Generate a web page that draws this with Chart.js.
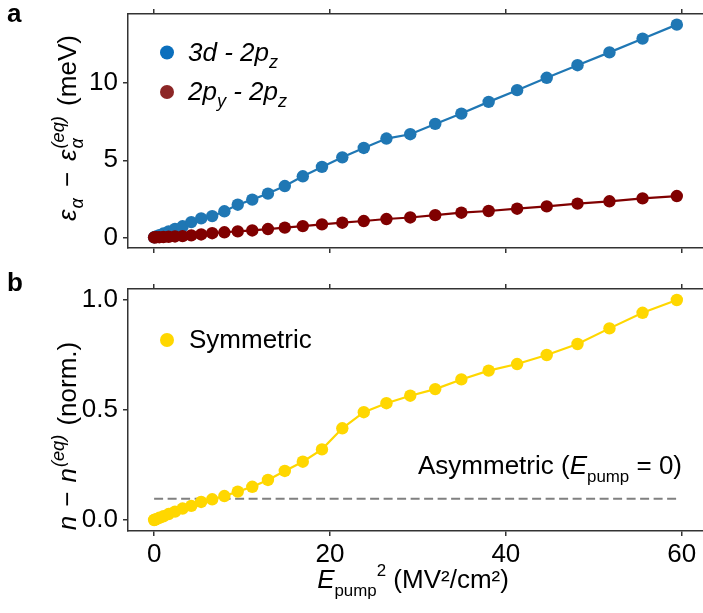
<!DOCTYPE html>
<html>
<head>
<meta charset="utf-8">
<script src="https://cdn.jsdelivr.net/npm/chart.js@4.4.1/dist/chart.umd.min.js"></script>
<style>
    body { margin: 0; background: #fff; }
    #wrap { position: relative; width: 703px; height: 613px; }
    canvas { position: absolute; left: 0; }
</style>
</head>
<body>
<div id="wrap">
    <canvas id="chartA" width="703" height="265" style="top:0px"></canvas>
    <canvas id="chartB" width="703" height="348" style="top:265px"></canvas>
</div>
<script>
// E_pump^2 (MV^2/cm^2), shared by both panels
const ePump2 = [0, 0.066, 0.264, 0.594, 1.057, 1.651, 2.378, 3.236, 4.227, 5.350, 6.605,
    7.992, 9.511, 11.162, 12.946, 14.861, 16.909, 19.088, 21.400, 23.844, 26.420,
    29.128, 31.968, 34.940, 38.044, 41.281, 44.649, 48.150, 51.782, 55.547, 59.444];
// panel a: energy shifts (meV)
const shift3d = [0, 0.02, 0.06, 0.14, 0.25, 0.38, 0.55, 0.72, 0.99, 1.23, 1.38,
    1.69, 2.12, 2.45, 2.84, 3.33, 3.96, 4.57, 5.19, 5.80, 6.41,
    6.69, 7.36, 8.03, 8.79, 9.55, 10.35, 11.17, 12.00, 12.89, 13.80];
const shift2py = [0, 0.00, 0.01, 0.01, 0.02, 0.04, 0.06, 0.08, 0.13, 0.19, 0.27,
    0.33, 0.39, 0.45, 0.54, 0.63, 0.73, 0.84, 0.95, 1.06, 1.19,
    1.29, 1.44, 1.60, 1.71, 1.86, 2.01, 2.19, 2.34, 2.53, 2.68];
// panel b: normalised density change
const symmetric = [0, 0.001, 0.004, 0.010, 0.017, 0.027, 0.038, 0.052, 0.064, 0.082, 0.094,
    0.109, 0.129, 0.151, 0.182, 0.223, 0.265, 0.321, 0.417, 0.490, 0.531,
    0.565, 0.595, 0.639, 0.679, 0.709, 0.750, 0.800, 0.871, 0.942, 1.000];
const asymLevel = 0.097;

const xTicks = [0, 20, 40, 60];
const yTicksA = [0, 5, 10];
const yTicksB = [0, 0.5, 1.0];

const FONT = '"Liberation Sans", Arial, sans-serif';
const FS = 26;
const AXIS_COLOR = '#333';

function points(xs, ys) {
    return xs.map((x, i) => ({ x: x, y: ys[i] }));
}

// draws a run of text pieces (italic, sub, sup...) starting at x, baseline y
// p.gap adds extra space (px) before the piece
function drawRich(ctx, parts, x, y, size, align) {
    let items = [];
    let cx = 0, prevStart = 0;
    parts.forEach(p => {
        const s = size * (p.s || 1);
        const font = (p.b ? 'bold ' : '') + (p.i ? 'italic ' : '') + s + 'px ' + FONT;
        ctx.font = font;
        const w = ctx.measureText(p.t).width;
        let start = p.stack ? prevStart : cx + (p.gap || 0);
        items.push({ t: p.t, font: font, x: start, dy: (p.dy || 0) * size });
        if (p.stack) {
            cx = Math.max(cx, start + w);
        } else {
            prevStart = start;
            cx = start + w;
        }
    });
    let ox = x;
    if (align === 'center') ox = x - cx / 2;
    if (align === 'right') ox = x - cx;
    ctx.save();
    ctx.fillStyle = '#000';
    ctx.textAlign = 'left';
    ctx.textBaseline = 'alphabetic';
    items.forEach(it => {
        ctx.font = it.font;
        ctx.fillText(it.t, ox + it.x, y + it.dy);
    });
    ctx.restore();
}

function dot(ctx, x, y, r, color) {
    ctx.save();
    ctx.fillStyle = color;
    ctx.beginPath();
    ctx.arc(x, y, r, 0, Math.PI * 2);
    ctx.fill();
    ctx.restore();
}

function xScale(position, height, showLabels, min, max) {
    return {
        type: 'linear',
        position: position,
        min: min,
        max: max,
        afterBuildTicks: s => { s.ticks = xTicks.map(v => ({ value: v })); },
        afterFit: s => { s.height = height; s.paddingLeft = 0; s.paddingRight = 0; },
        grid: { drawOnChartArea: false, drawTicks: true, tickLength: 5, color: AXIS_COLOR, lineWidth: 1.5 },
        border: { display: true, color: AXIS_COLOR, width: 1.5 },
        ticks: {
            padding: 3,
            color: '#000',
            font: { family: FONT, size: FS },
            callback: v => showLabels ? String(v) : ''
        }
    };
}

function yScale(min, max, ticks, fmt) {
    return {
        type: 'linear',
        position: 'left',
        min: min,
        max: max,
        afterBuildTicks: s => { s.ticks = ticks.map(v => ({ value: v })); },
        afterFit: s => { s.width = 128; s.paddingTop = 0; s.paddingBottom = 0; },
        grid: { drawOnChartArea: false, drawTicks: true, tickLength: 5, color: AXIS_COLOR, lineWidth: 1.5 },
        border: { display: true, color: AXIS_COLOR, width: 1.5 },
        ticks: {
            padding: 5,
            color: '#000',
            font: { family: FONT, size: FS },
            callback: fmt
        }
    };
}

const xMin = -2.97, xMax = 62.42;

// panel a
const labelsA = {
    id: 'labelsA',
    afterDraw(chart) {
        const ctx = chart.ctx;
        drawRich(ctx, [{ t: 'a', b: true }], 7, 22, FS, 'left');
        // legend
        dot(ctx, 167, 52.5, 7, '#0b6fbd');
        drawRich(ctx, [{ t: '3', i: true }, { t: 'd', i: true }, { t: ' - 2', i: true }, { t: 'p', i: true },
            { t: 'z', i: true, s: 0.7, dy: 0.25 }], 188, 61, FS, 'left');
        dot(ctx, 167, 92, 7, '#8c2626');
        drawRich(ctx, [{ t: '2', i: true }, { t: 'p', i: true }, { t: 'y', i: true, s: 0.7, dy: 0.25 },
            { t: ' - 2', i: true }, { t: 'p', i: true }, { t: 'z', i: true, s: 0.7, dy: 0.25 }], 188, 100, FS, 'left');
        // y title
        ctx.save();
        ctx.translate(76, 128);
        ctx.rotate(-Math.PI / 2);
        drawRich(ctx, [{ t: 'ε', i: true }, { t: 'α', i: true, s: 0.7, dy: 0.25, gap: 1 },
            { t: '−', gap: 11 }, { t: 'ε', i: true, gap: 11 }, { t: 'α', i: true, s: 0.7, dy: 0.25, gap: 1 },
            { t: '(eq)', i: true, s: 0.7, dy: -0.45, stack: true },
            { t: ' (meV)', gap: 3 }], 0, 0, FS, 'center');
        ctx.restore();
    }
};

new Chart(document.getElementById('chartA'), {
    type: 'scatter',
    data: {
        datasets: [
            {
                label: '2py - 2pz',
                data: points(ePump2, shift2py),
                showLine: true,
                borderColor: '#800000',
                backgroundColor: '#800000',
                borderWidth: 2.2,
                pointRadius: 6.2,
                pointBorderWidth: 0,
                order: 0
            },
            {
                label: '3d - 2pz',
                data: points(ePump2, shift3d),
                showLine: true,
                borderColor: '#1f77b4',
                backgroundColor: '#1f77b4',
                borderWidth: 2.2,
                pointRadius: 6.2,
                pointBorderWidth: 0,
                order: 1
            }
        ]
    },
    options: {
        responsive: false,
        animation: false,
        devicePixelRatio: 1,
        layout: { padding: 0, autoPadding: false },
        plugins: { legend: { display: false }, tooltip: { enabled: false } },
        scales: {
            x: xScale('bottom', 17, false, xMin, xMax),
            x2: xScale('top', 14, false, xMin, xMax),
            y: yScale(-0.69, 14.49, yTicksA, v => String(v))
        }
    },
    plugins: [labelsA]
});

// panel b
const labelsB = {
    id: 'labelsB',
    afterDraw(chart) {
        const ctx = chart.ctx;
        drawRich(ctx, [{ t: 'b', b: true }], 7, 26, FS, 'left');
        dot(ctx, 167, 75, 7, '#ffd700');
        drawRich(ctx, [{ t: 'Symmetric' }], 189, 83, FS, 'left');
        drawRich(ctx, [{ t: 'Asymmetric (' }, { t: 'E', i: true }, { t: 'pump', s: 0.65, dy: 0.3 },
            { t: ' = 0)' }], 418, 209, FS, 'left');
        // x title
        drawRich(ctx, [{ t: 'E', i: true }, { t: 'pump', s: 0.65, dy: 0.3 }, { t: '2', s: 0.65, dy: -0.45 },
            { t: ' (MV²/cm²)' }], 413, 323, FS, 'center');
        // y title
        ctx.save();
        ctx.translate(76, 171);
        ctx.rotate(-Math.PI / 2);
        drawRich(ctx, [{ t: 'n', i: true }, { t: '−', gap: 9 }, { t: 'n', i: true, gap: 9 },
            { t: '(eq)', i: true, s: 0.7, dy: -0.45, gap: 1 }, { t: ' (norm.)', gap: 2 }], 0, 0, FS, 'center');
        ctx.restore();
    }
};

new Chart(document.getElementById('chartB'), {
    type: 'scatter',
    data: {
        datasets: [
            {
                label: 'Symmetric',
                data: points(ePump2, symmetric),
                showLine: true,
                borderColor: '#ffd700',
                backgroundColor: '#ffd700',
                borderWidth: 2.2,
                pointRadius: 6.2,
                pointBorderWidth: 0,
                order: 0
            },
            {
                label: 'Asymmetric',
                data: [{ x: ePump2[0], y: asymLevel }, { x: ePump2[ePump2.length - 1], y: asymLevel }],
                showLine: true,
                borderColor: '#808080',
                borderWidth: 2,
                borderDash: [9, 4.5],
                pointRadius: 0,
                order: 1
            }
        ]
    },
    options: {
        responsive: false,
        animation: false,
        devicePixelRatio: 1,
        layout: { padding: 0, autoPadding: false },
        plugins: { legend: { display: false }, tooltip: { enabled: false } },
        scales: {
            x: xScale('bottom', 82, true, xMin, xMax),
            x2: xScale('top', 24, false, xMin, xMax),
            y: yScale(-0.05, 1.05, yTicksB, v => v.toFixed(1))
        }
    },
    plugins: [labelsB]
});
</script>
</body>
</html>
